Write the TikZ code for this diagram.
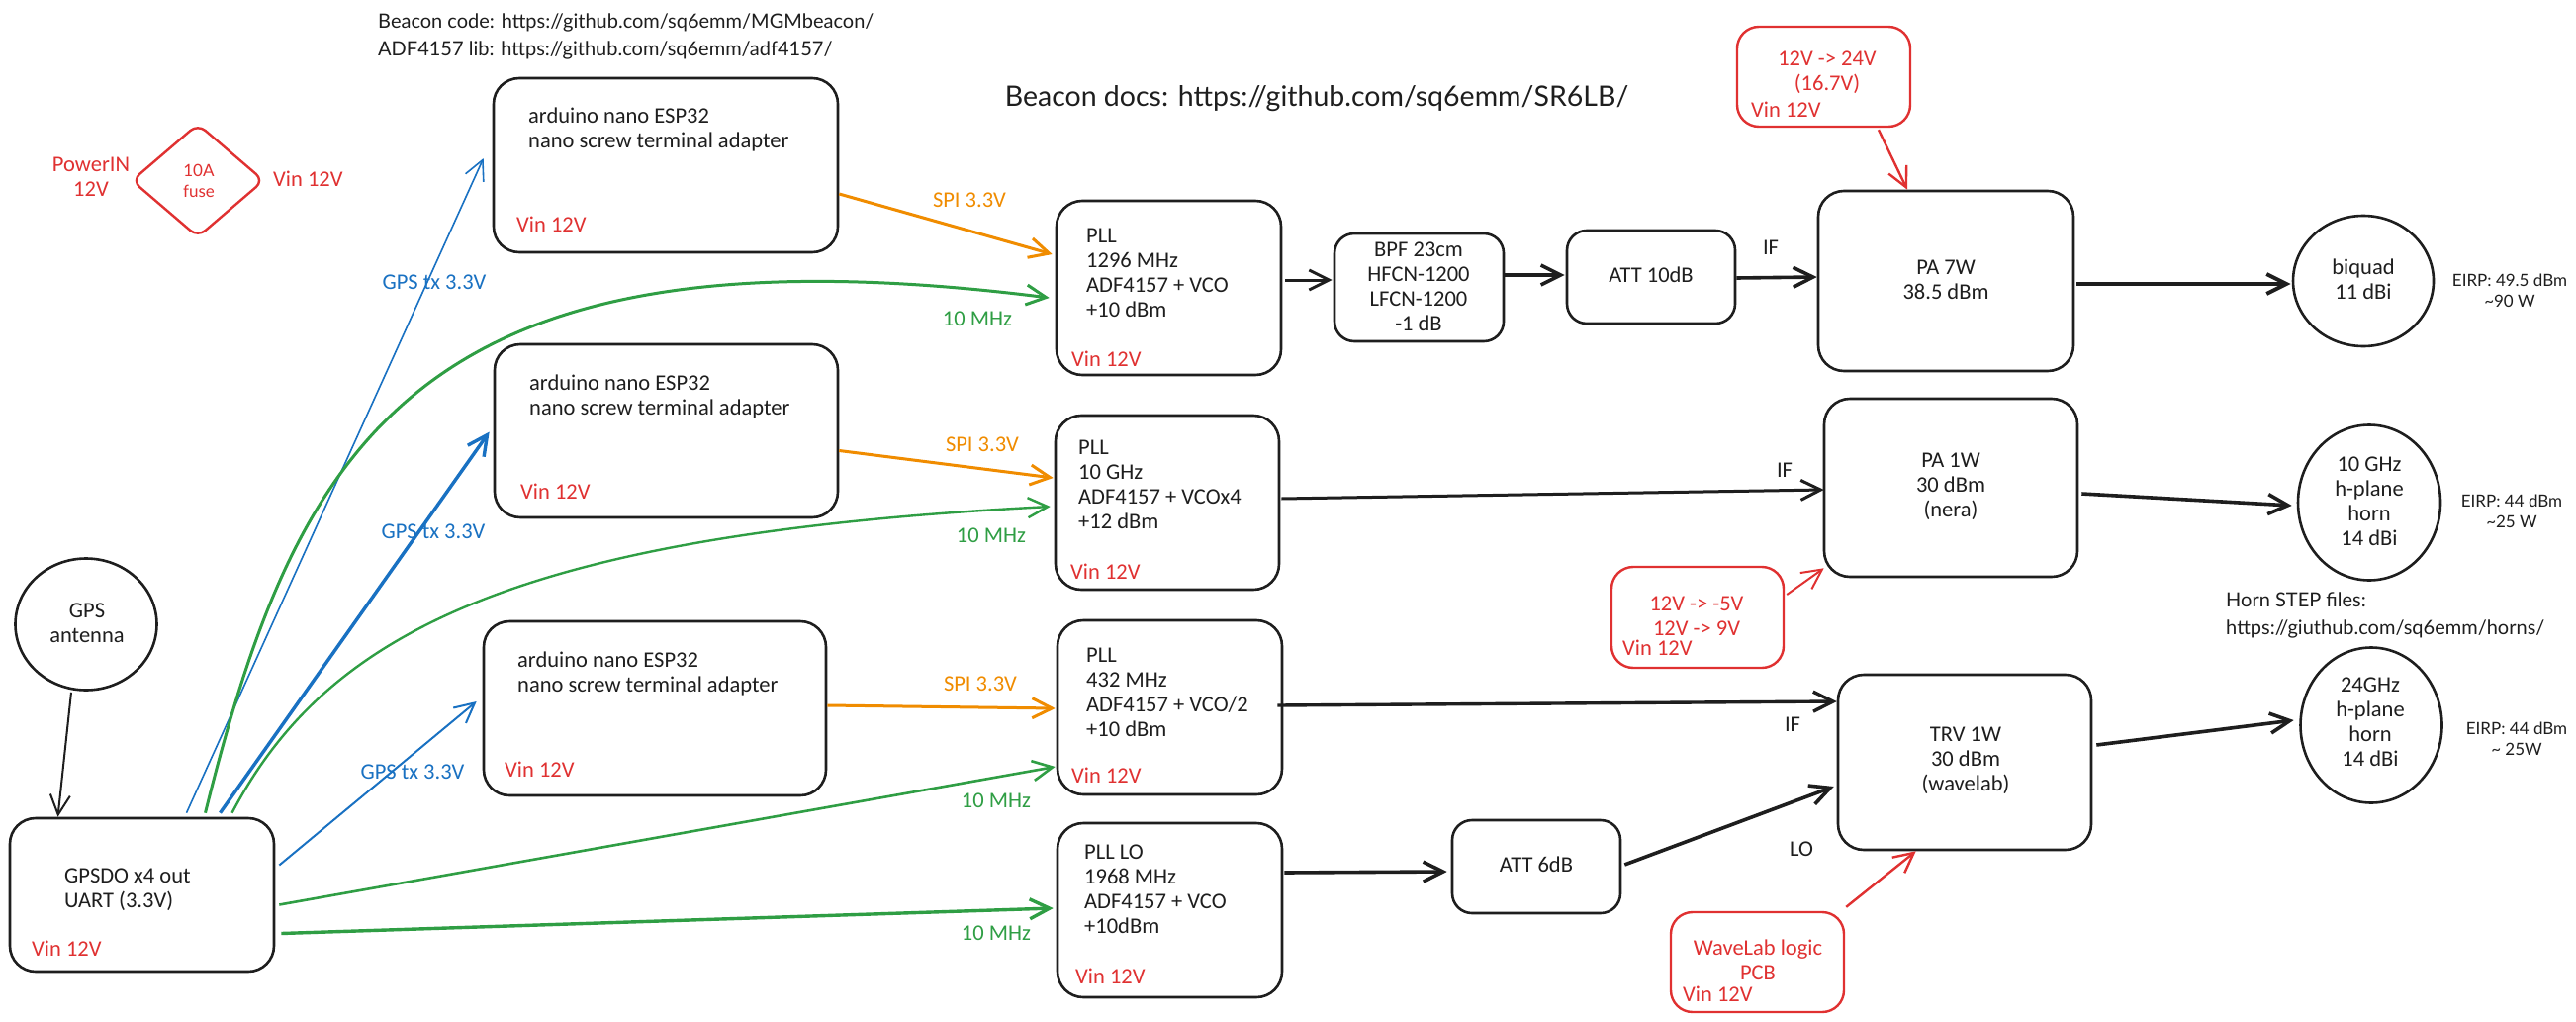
\documentclass[tikz,border=0pt]{standalone}
\usepackage{fontspec}
\setmainfont{Lato}
\newfontfamily\handfont{Carlito}
\usetikzlibrary{arrows.meta,shapes.geometric,calc}
\definecolor{ink}{HTML}{1E1E1E}
\definecolor{xred}{HTML}{E03131}
\definecolor{xblue}{HTML}{1971C2}
\definecolor{xgreen}{HTML}{2F9E44}
\definecolor{xorange}{HTML}{F08C00}
\begin{document}
\begin{tikzpicture}[x=1pt,y=-1pt,
  box/.style={draw=ink, line width=2.6pt, rounded corners=26pt, inner sep=0pt},
  sbox/.style={box, rounded corners=20pt},
  rbox/.style={draw=xred, line width=2.4pt, rounded corners=22pt, inner sep=0pt},
  oval/.style={ellipse, draw=ink, line width=2.6pt, inner sep=0pt},
  hw/.style={font=\handfont\fontsize{22.5}{25}\selectfont, text=ink, inner sep=0pt},
  hwl/.style={hw, align=left, anchor=west},
  hwc/.style={hw, align=center},
  vin/.style={hw, text=xred, anchor=west},
  rtxt/.style={hwc, text=xred},
  sans/.style={font=\fontsize{20}{28}\selectfont, text=ink, inner sep=0pt},
  eirp/.style={font=\fontsize{17}{21}\selectfont, text=ink, inner sep=0pt, align=center},
  conn/.style={line width=3pt, ink, -{Straight Barb[length=20pt,width=20pt]}},
  thinconn/.style={conn, line width=1.6pt},
  lbl/.style={hw}
]
\useasboundingbox[fill=white] (0,0) rectangle (2604,1033);

% ---------- top texts ----------
\node[sans, anchor=west, align=left] (code) at (382,37)
  {Beacon code: https://github.com/sq6emm/MGMbeacon/\\ADF4157 lib: https://github.com/sq6emm/adf4157/};
\node[sans, font=\fontsize{28.5}{34}\selectfont] (docs) at (1331,100) {Beacon docs: https://github.com/sq6emm/SR6LB/};
\node[sans, anchor=west, align=left] (hornfiles) at (2250,622)
  {Horn STEP files:\\https://giuthub.com/sq6emm/horns/};

% ---------- power ----------
\node[rtxt] (powerin) at (92,179) {PowerIN\\12V};
\node[diamond, draw=xred, line width=2.4pt, rounded corners=10pt, inner sep=0pt,
      aspect=1.165, minimum width=134pt, minimum height=115pt] (fuse) at (200,182.5) {};
\node[font=\fontsize{17}{21}\selectfont, text=xred, align=center, inner sep=0pt] (fusetxt) at (201,182.5) {10A\\fuse};
\node[vin] (fusevin) at (276,181) {Vin 12V};

% ---------- boxes ----------
\node[box, minimum width=348pt, minimum height=176pt] (esp1) at (673,167) {};
\node[box, minimum width=347pt, minimum height=175pt] (esp2) at (673.5,435.5) {};
\node[box, minimum width=346pt, minimum height=176pt] (esp3) at (662,716) {};
\node[box, minimum width=227pt, minimum height=176pt] (pll1) at (1181.5,291) {};
\node[box, minimum width=226pt, minimum height=176pt] (pll2) at (1180,508) {};
\node[box, minimum width=227pt, minimum height=176pt] (pll3) at (1182.5,715) {};
\node[box, minimum width=227pt, minimum height=176pt] (pllo) at (1182.5,920) {};
\node[sbox, minimum width=171pt, minimum height=109pt] (bpf) at (1434.5,290.5) {};
\node[sbox, minimum width=170pt, minimum height=94pt] (att10) at (1669,280) {};
\node[box, minimum width=258pt, minimum height=182pt] (pa7) at (1967,284) {};
\node[box, minimum width=256pt, minimum height=180pt] (pa1) at (1972,493) {};
\node[box, minimum width=256pt, minimum height=177pt] (trv) at (1986,770.5) {};
\node[sbox, minimum width=170pt, minimum height=94pt] (att6) at (1553,876) {};
\node[box, minimum width=267pt, minimum height=155pt] (gpsdo) at (143.5,904.5) {};
\node[rbox, minimum width=175pt, minimum height=101pt] (conv24) at (1843.5,77.5) {};
\node[rbox, minimum width=174pt, minimum height=102pt] (conv5) at (1716,624) {};
\node[rbox, minimum width=175pt, minimum height=101pt] (wavelab) at (1776.5,972.5) {};

\node[oval, minimum width=143pt, minimum height=133pt] (gpsant) at (87,631) {};
\node[oval, minimum width=142pt, minimum height=132pt] (biquad) at (2389,284) {};
\node[oval, minimum width=144pt, minimum height=157pt] (horn10) at (2395,508) {};
\node[oval, minimum width=143pt, minimum height=157pt] (horn24) at (2397,733) {};

% ---------- box texts ----------
\node[hwl] (esp1t) at (534,131.5) {arduino nano ESP32\\nano screw terminal adapter};
\node[hwl] (esp2t) at (535,400.5) {arduino nano ESP32\\nano screw terminal adapter};
\node[hwl] (esp3t) at (523,681) {arduino nano ESP32\\nano screw terminal adapter};
\node[vin] (esp1v) at (522,227) {Vin 12V};
\node[vin] (esp2v) at (526,497) {Vin 12V};
\node[vin] (esp3v) at (510,778) {Vin 12V};

\node[hwl] (pll1t) at (1098,275.5) {PLL\\1296 MHz\\ADF4157 + VCO\\+10 dBm};
\node[hwl] (pll2t) at (1090,489.5) {PLL\\10 GHz\\ADF4157 + VCOx4\\+12 dBm};
\node[hwl] (pll3t) at (1098,699.5) {PLL\\432 MHz\\ADF4157 + VCO/2\\+10 dBm};
\node[hwl] (pllot) at (1096,898.5) {PLL LO\\1968 MHz\\ADF4157 + VCO\\+10dBm};
\node[vin] (pll1v) at (1083,363) {Vin 12V};
\node[vin] (pll2v) at (1082,578) {Vin 12V};
\node[vin] (pll3v) at (1083,784) {Vin 12V};
\node[vin] (pllov) at (1087,987) {Vin 12V};

\node[hwl] (gpsdot) at (65,899.5) {GPSDO x4 out\\UART (3.3V)};
\node[vin] (gpsdov) at (32,959) {Vin 12V};

\node[hwc] (bpft) at (1434,289.5) {BPF 23cm\\HFCN-1200\\LFCN-1200\\-1 dB};
\node[hwc] (att10t) at (1669,278) {ATT 10dB};
\node[hwc] (pa7t) at (1967,282.5) {PA 7W\\38.5 dBm};
\node[hwc] (pa1t) at (1972,492) {PA 1W\\30 dBm\\(nera)};
\node[hwc] (trvt) at (1987,769) {TRV 1W\\30 dBm\\(wavelab)};
\node[hwc] (att6t) at (1553,874) {ATT 6dB};
\node[hwc] (biquadt) at (2389,282.5) {biquad\\11 dBi};
\node[hwc] (horn10t) at (2395,507) {10 GHz\\h-plane\\horn\\14 dBi};
\node[hwc] (horn24t) at (2396,730) {24GHz\\h-plane\\horn\\14 dBi};
\node[hwc] (gpsantt) at (88,630) {GPS\\antenna};

\node[rtxt] (conv24t) at (1847,73.5) {12V -> 24V\\(16.7V)};
\node[vin] (conv24v) at (1770,111) {Vin 12V};
\node[rtxt] (conv5t) at (1715,622.5) {12V -> -5V\\12V -> 9V};
\node[vin] (conv5v) at (1640,655) {Vin 12V};
\node[rtxt] (wavelabt) at (1777,970.5) {WaveLab logic\\PCB};
\node[vin] (wavelabv) at (1701,1005) {Vin 12V};

\node[eirp] (eirp1) at (2537,293.5) {EIRP: 49.5 dBm\\\textasciitilde90 W};
\node[eirp] (eirp2) at (2539,517) {EIRP: 44 dBm\\\textasciitilde25 W};
\node[eirp] (eirp3) at (2544,747) {EIRP: 44 dBm\\\textasciitilde{} 25W};

% ---------- connectors ----------
% SPI
\draw[conn, xorange] ($(esp1.east)+(0,29)$) -- ($(pll1.west)+(-3,-34)$);
\draw[conn, xorange] ($(esp2.east)+(0,20)$) -- ($(pll2.west)+(-1,-25)$);
\draw[conn, xorange] ($(esp3.east)+(0,-3)$) -- ($(pll3.west)+(-1,1)$);
\node[lbl, text=xorange] (spi1) at (980,202) {SPI 3.3V};
\node[lbl, text=xorange] (spi2) at (993,449) {SPI 3.3V};
\node[lbl, text=xorange] (spi3) at (991,691) {SPI 3.3V};

% GPS tx
\draw[thinconn, xblue] ($(gpsdo.north)+(45,-4)$) -- ($(esp1.west)+(-9,-7)$);
\draw[conn, xblue, line width=3.4pt] ($(gpsdo.north)+(79,-4)$) -- ($(esp2.west)+(-4,1)$);
\draw[thinconn, xblue, line width=2pt] ($(gpsdo.east)+(4,-30)$) -- ($(esp3.west)+(-6,-7)$);
\node[lbl, text=xblue] (gtx1) at (439,285) {GPS tx 3.3V};
\node[lbl, text=xblue] (gtx2) at (438,537) {GPS tx 3.3V};
\node[lbl, text=xblue] (gtx3) at (417,780) {GPS tx 3.3V};

% 10 MHz
\draw[conn, xgreen] ($(gpsdo.north)+(64,-4)$) .. controls (300,450) and (420,220) .. ($(pll1.west)+(-6,10)$);
\draw[conn, xgreen, line width=2.4pt] ($(gpsdo.north)+(91,-4)$) .. controls (330,640) and (520,540) .. ($(pll2.west)+(-4,4)$);
\draw[conn, xgreen, line width=2.6pt] ($(gpsdo.east)+(4,10)$) -- ($(pll3.west)+(-1,60)$);
\draw[conn, xgreen, line width=3.4pt] ($(gpsdo.east)+(6,39)$) -- ($(pllo.west)+(-3,-2)$);
\node[lbl, text=xgreen] (mhz1) at (988,322) {10 MHz};
\node[lbl, text=xgreen] (mhz2) at (1002,541) {10 MHz};
\node[lbl, text=xgreen] (mhz3) at (1007,809) {10 MHz};
\node[lbl, text=xgreen] (mhz4) at (1007,943) {10 MHz};

% antenna
\draw[thinconn, line width=2pt] ($(gpsant.south)+(-15,1)$) -- ($(gpsdo.north)+(-85,0)$);

% RF chain
\draw[conn] ($(pll1.east)+(3,-8)$) -- ($(bpf.west)+(-1,-7.5)$);
\draw[conn, line width=3.6pt] ($(bpf.east)+(0,-12.5)$) -- ($(att10.west)+(-1,-2)$);
\draw[conn, line width=3.6pt] ($(att10.east)+(0,1)$) -- ($(pa7.west)+(0,-4)$);
\draw[conn, line width=4pt] ($(pa7.east)+(2,3)$) -- ($(biquad.west)+(-1,3)$);
\draw[conn, xred, line width=2.4pt] ($(conv24.south)+(55.5,2)$) -- ($(pa7.north)+(-39,0)$);

\draw[conn] ($(pll2.east)+(1,-4)$) -- ($(pa1.west)+(1,2)$);
\draw[conn, xred, line width=2pt] ($(conv5.east)+(2,-23)$) -- ($(pa1.south west)+(1,-10)$);
\draw[conn, line width=3.6pt] ($(pa1.east)+(3,6)$) -- ($(horn10.west)+(-5,3)$);

\draw[conn, line width=3.4pt] ($(pll3.east)+(-6,-2)$) -- ($(trv.west)+(0,-61.5)$);
\draw[conn, line width=3.6pt] ($(pllo.east)+(1,-38)$) -- ($(att6.west)+(-4,5)$);
\draw[conn, line width=3.6pt] ($(att6.east)+(3,-2)$) -- ($(trv.west)+(-3,24.5)$);
\draw[conn, xred, line width=2.4pt] ($(wavelab.north east)+(1,-4)$) -- ($(trv.south west)+(80,0)$);
\draw[conn, line width=3.6pt] ($(trv.east)+(4,-17.5)$) -- ($(horn24.west)+(-5.5,-5)$);

\node[lbl] (if1) at (1790,250) {IF};
\node[lbl] (if2) at (1804,475) {IF};
\node[lbl] (if3) at (1812,732) {IF};
\node[lbl] (lo) at (1821,858) {LO};
\end{tikzpicture}
\end{document}
